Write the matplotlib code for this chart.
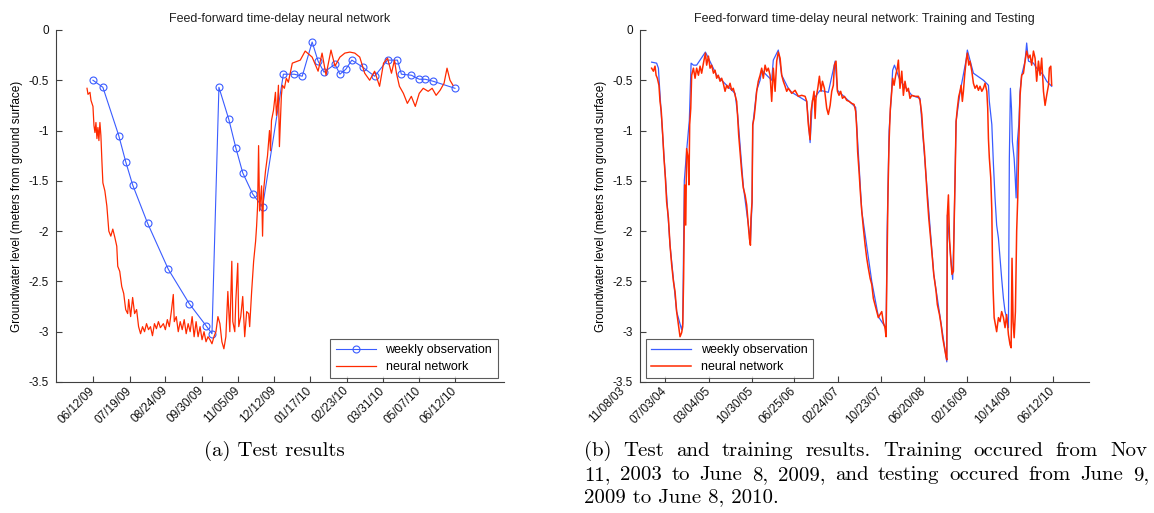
import numpy as np
import pandas as pd
import matplotlib
matplotlib.use("Agg")
import matplotlib.pyplot as plt

plt.rcParams["font.family"] = ["Liberation Sans", "DejaVu Sans"]
plt.rcParams["axes.unicode_minus"] = False

# ---- (a) test period, days since 2009-06-12 ----
test_start = "2009-06-12"
obs_days = [0, 10, 26, 33, 40, 55, 76, 97, 114, 120, 127, 137, 144, 151, 161, 171,
            192, 203, 211, 221, 227, 233, 244, 249, 255, 261, 272, 284, 297, 307,
            311, 321, 329, 335, 343, 365]
obs_level = [-0.50, -0.57, -1.05, -1.31, -1.54, -1.92, -2.38, -2.72, -2.94, -3.02,
             -0.57, -0.89, -1.17, -1.42, -1.63, -1.76, -0.44, -0.44, -0.46, -0.12,
             -0.31, -0.42, -0.34, -0.44, -0.39, -0.30, -0.37, -0.46, -0.30, -0.30,
             -0.44, -0.45, -0.49, -0.49, -0.51, -0.58]

nn_days = [-6, -5, -3, -2, 0, 1, 2, 3, 4, 5, 6, 7, 8, 9, 10, 12, 14, 16, 18, 20, 22,
           24, 25, 27, 29, 31, 33, 35, 36, 38, 40, 42, 44, 46, 48, 50, 52, 54, 56, 58,
           60, 62, 64, 66, 68, 71, 73, 75, 77, 79, 81, 82, 84, 86, 88, 90, 92, 94, 96,
           98, 100, 102, 104, 106, 108, 110, 112, 114, 116, 118, 120, 122, 124, 126,
           128, 130, 132, 134, 136, 138, 139, 140, 141, 143, 144, 146, 147, 149, 151,
           153, 155, 157, 158, 160, 162, 164, 165, 166, 167, 168, 170, 171, 172, 174,
           176, 178, 179, 180, 182, 184, 185, 186, 187, 188, 190, 191, 193, 195, 197,
           201, 209, 214, 221, 227, 231, 235, 240, 244, 249, 254, 259, 264, 269, 274,
           279, 284, 289, 293, 297, 301, 304, 306, 309, 313, 317, 321, 325, 329, 333,
           338, 342, 346, 350, 354, 357, 360, 363]
nn_level = [-0.58, -0.64, -0.62, -0.70, -0.76, -0.95, -1.02, -0.92, -1.08, -0.97,
            -1.10, -0.92, -1.05, -1.30, -1.52, -1.60, -1.75, -2.00, -2.05, -1.98,
            -2.06, -2.15, -2.35, -2.40, -2.55, -2.62, -2.78, -2.82, -2.68, -2.85,
            -2.66, -2.82, -2.78, -2.95, -3.02, -2.95, -3.00, -2.92, -2.98, -2.95,
            -3.04, -2.92, -2.97, -2.90, -2.96, -2.92, -2.98, -2.88, -2.95, -2.80,
            -2.63, -2.90, -2.85, -3.00, -2.90, -2.98, -2.88, -3.02, -2.92, -3.00,
            -2.85, -3.05, -2.90, -3.05, -2.95, -3.08, -3.00, -3.10, -3.05, -3.08,
            -3.12, -3.05, -3.00, -2.85, -2.92, -3.10, -3.17, -3.05, -2.60, -3.00,
            -2.65, -2.30, -2.90, -3.00, -2.70, -2.32, -2.95, -2.85, -2.65, -3.05,
            -2.80, -2.82, -2.95, -2.60, -2.30, -2.10, -1.95, -1.75, -1.15, -1.80,
            -1.55, -2.05, -1.60, -1.40, -1.25, -1.00, -1.20, -0.90, -0.80, -0.62,
            -0.85, -0.75, -0.55, -1.16, -0.65, -0.55, -0.58, -0.48, -0.52, -0.33,
            -0.30, -0.21, -0.27, -0.41, -0.23, -0.45, -0.20, -0.36, -0.27, -0.23,
            -0.22, -0.23, -0.27, -0.43, -0.50, -0.41, -0.56, -0.33, -0.28, -0.43,
            -0.30, -0.43, -0.56, -0.63, -0.73, -0.66, -0.76, -0.63, -0.58, -0.61,
            -0.58, -0.65, -0.60, -0.53, -0.38, -0.50, -0.55]
test_ticks = ["06/12/09", "07/19/09", "08/24/09", "09/30/09", "11/05/09", "12/12/09",
              "01/17/10", "02/23/10", "03/31/10", "05/07/10", "06/12/10"]

# ---- (b) training + test, days since 2003-11-08 ----
full_start = "2003-11-08"
full_obs_days = [163, 191, 201, 206, 232, 266, 303, 331, 337, 346, 359, 374, 384, 397,
                 415, 464, 481, 527, 583, 630, 645, 676, 716, 725, 729, 751, 770, 779,
                 835, 844, 872, 891, 928, 947, 1031, 1050, 1063, 1106, 1152, 1190,
                 1203, 1305, 1339, 1395, 1432, 1469, 1475, 1481, 1492, 1503, 1512,
                 1522, 1553, 1619, 1665, 1742, 1815, 1818, 1837, 1848, 1856, 1867,
                 1889, 1923, 1930, 1964, 2020, 2048, 2053, 2067, 2076, 2085, 2094,
                 2104, 2113, 2122, 2132, 2141, 2150, 2160, 2165, 2171, 2177, 2182,
                 2192, 2197, 2203, 2210, 2218, 2225, 2234, 2253, 2262, 2272, 2300,
                 2318, 2356, 2374, 2402]
full_obs_level = [-0.32, -0.33, -0.38, -0.53, -1.25, -2.14, -2.80, -2.98, -2.92, -1.50,
                  -1.20, -0.90, -0.33, -0.35, -0.35, -0.22, -0.28, -0.45, -0.55, -0.63,
                  -0.85, -1.55, -2.10, -1.72, -0.95, -0.60, -0.50, -0.40, -0.50, -0.30,
                  -0.20, -0.45, -0.58, -0.62, -0.71, -1.12, -0.70, -0.60, -0.62, -0.31,
                  -0.60, -0.77, -1.80, -2.50, -2.85, -2.95, -3.00, -2.00, -1.00, -0.70,
                  -0.40, -0.35, -0.50, -0.65, -0.68, -2.43, -3.30, -1.84, -2.27, -2.48,
                  -1.94, -0.91, -0.62, -0.30, -0.20, -0.43, -0.50, -0.55, -0.71, -0.94,
                  -1.34, -1.67, -1.94, -2.07, -2.27, -2.47, -2.67, -2.80, -2.86, -2.96,
                  -1.28, -0.58, -0.78, -1.11, -1.28, -1.44, -1.67, -1.11, -0.94, -0.61,
                  -0.45, -0.31, -0.13, -0.31, -0.33, -0.38, -0.45, -0.51, -0.56]

full_nn_days = [163, 173, 182, 188, 195, 204, 210, 217, 225, 232, 240, 247, 257, 266,
                275, 285, 294, 303, 313, 322, 331, 337, 342, 348, 354, 359, 367, 372,
                376, 382, 387, 397, 406, 415, 425, 434, 443, 453, 464, 471, 481, 490,
                499, 509, 518, 527, 536, 546, 555, 564, 574, 583, 592, 602, 611, 620,
                630, 639, 645, 650, 658, 667, 676, 686, 695, 704, 710, 716, 719, 725,
                729, 736, 742, 751, 760, 770, 779, 788, 798, 807, 816, 826, 835, 844,
                854, 863, 872, 882, 891, 900, 910, 919, 928, 947, 966, 984, 1003, 1022,
                1031, 1040, 1050, 1055, 1063, 1072, 1078, 1083, 1093, 1102, 1111, 1119,
                1130, 1143, 1152, 1162, 1171, 1180, 1186, 1195, 1203, 1212, 1221, 1231,
                1242, 1255, 1268, 1283, 1296, 1305, 1311, 1316, 1324, 1331, 1339, 1348,
                1358, 1367, 1376, 1386, 1395, 1404, 1413, 1423, 1432, 1441, 1451, 1460,
                1469, 1475, 1481, 1486, 1492, 1499, 1507, 1512, 1520, 1529, 1538, 1544,
                1553, 1563, 1572, 1581, 1591, 1600, 1609, 1619, 1637, 1656, 1665, 1675,
                1682, 1690, 1697, 1706, 1714, 1723, 1733, 1742, 1755, 1762, 1774, 1783,
                1792, 1802, 1811, 1815, 1818, 1824, 1830, 1837, 1844, 1852, 1856, 1861,
                1867, 1874, 1882, 1889, 1895, 1902, 1908, 1915, 1923, 1930, 1938, 1945,
                1955, 1964, 1973, 1983, 1992, 2001, 2011, 2020, 2029, 2039, 2044, 2048,
                2053, 2061, 2067, 2070, 2074, 2080, 2087, 2094, 2104, 2113, 2122, 2132,
                2141, 2150, 2160, 2169, 2175, 2180, 2186, 2192, 2199, 2206, 2212, 2218,
                2225, 2234, 2244, 2253, 2262, 2272, 2281, 2290, 2300, 2309, 2318, 2328,
                2337, 2346, 2356, 2365, 2374, 2384, 2389, 2397, 2402]
full_nn_level = [-0.38, -0.41, -0.36, -0.45, -0.48, -0.55, -0.71, -0.81, -1.04, -1.27,
                 -1.47, -1.71, -1.87, -2.14, -2.33, -2.50, -2.60, -2.80, -2.93, -3.05,
                 -3.01, -2.95, -2.47, -1.54, -1.94, -1.18, -1.27, -1.54, -0.94, -0.78,
                 -0.45, -0.38, -0.48, -0.38, -0.45, -0.36, -0.43, -0.33, -0.23, -0.35,
                 -0.26, -0.38, -0.35, -0.43, -0.40, -0.48, -0.45, -0.51, -0.48, -0.53,
                 -0.61, -0.55, -0.58, -0.53, -0.60, -0.58, -0.65, -0.71, -0.88, -1.04,
                 -1.21, -1.41, -1.57, -1.64, -1.74, -1.94, -2.07, -2.14, -1.87, -1.71,
                 -0.94, -0.88, -0.78, -0.61, -0.51, -0.45, -0.38, -0.48, -0.35, -0.41,
                 -0.38, -0.45, -0.71, -0.38, -0.61, -0.31, -0.22, -0.28, -0.45, -0.51,
                 -0.56, -0.61, -0.58, -0.63, -0.60, -0.66, -0.65, -0.66, -0.71, -0.94,
                 -1.09, -0.81, -0.71, -0.61, -0.88, -0.68, -0.58, -0.46, -0.61, -0.51,
                 -0.58, -0.78, -0.84, -0.75, -0.61, -0.55, -0.35, -0.31, -0.61, -0.65,
                 -0.61, -0.68, -0.66, -0.70, -0.71, -0.73, -0.74, -0.81, -0.98, -1.21,
                 -1.41, -1.61, -1.80, -1.97, -2.14, -2.27, -2.37, -2.47, -2.53, -2.67,
                 -2.73, -2.80, -2.86, -2.83, -2.80, -2.91, -2.96, -3.05, -2.27, -1.61,
                 -1.11, -0.78, -0.61, -0.48, -0.55, -0.45, -0.38, -0.30, -0.58, -0.41,
                 -0.65, -0.51, -0.61, -0.58, -0.68, -0.65, -0.66, -0.66, -0.70, -0.84,
                 -1.04, -1.21, -1.41, -1.67, -1.87, -2.04, -2.24, -2.43, -2.60, -2.73,
                 -2.83, -2.93, -3.06, -3.16, -3.25, -3.28, -1.84, -1.64, -2.07, -2.27,
                 -2.43, -2.40, -1.94, -1.51, -0.91, -0.78, -0.66, -0.61, -0.55, -0.71,
                 -0.61, -0.45, -0.31, -0.23, -0.35, -0.31, -0.41, -0.53, -0.58, -0.55,
                 -0.60, -0.56, -0.61, -0.58, -0.53, -0.61, -0.78, -1.08, -1.27, -1.47,
                 -1.80, -2.24, -2.57, -2.86, -2.93, -3.00, -2.86, -2.90, -2.80, -2.86,
                 -2.96, -2.83, -3.03, -3.13, -3.16, -2.27, -2.90, -3.06, -2.80, -2.00,
                 -1.67, -1.11, -0.65, -0.45, -0.43, -0.31, -0.21, -0.28, -0.25, -0.35,
                 -0.21, -0.28, -0.51, -0.31, -0.45, -0.28, -0.61, -0.75, -0.65, -0.55,
                 -0.38, -0.36, -0.55]
full_ticks = ["11/08/03", "07/03/04", "03/04/05", "10/30/05", "06/25/06", "02/24/07",
              "10/23/07", "06/20/08", "02/16/09", "10/14/09", "06/12/10"]

caption_a = "(a) Test results"
caption_b = ["(b) Test and training results.  Training occured from Nov",
             "11, 2003 to June 8, 2009, and testing occured from June 9,",
             "2009 to June 8, 2010."]

BLUE = "#3a5cff"
RED = "#ff2a00"
AX = "#404040"
TICK_FS = 8.5


def day_offsets(labels, start):
    return list((pd.to_datetime(labels, format="%m/%d/%y") - pd.Timestamp(start)).days)


def style_axes(ax, ticks, labels, xlim):
    for s in ["top", "right"]:
        ax.spines[s].set_visible(False)
    for s in ["left", "bottom"]:
        ax.spines[s].set_color(AX)
        ax.spines[s].set_linewidth(0.8)
    ax.set_ylim(-3.5, 0)
    ax.set_yticks(np.arange(-3.5, 0.01, 0.5))
    ax.set_yticklabels(["%g" % v for v in np.arange(-3.5, 0.01, 0.5)])
    ax.set_xlim(*xlim)
    shown = [(t, l) for t, l in zip(ticks, labels) if xlim[0] <= t <= xlim[1]]
    ax.set_xticks([t for t, _ in shown])
    ax.set_xticklabels([l for _, l in shown], rotation=45, ha="right",
                       va="center", rotation_mode="anchor")
    ax.tick_params(direction="in", length=4, width=0.8, color=AX,
                   labelsize=TICK_FS, pad=5, labelcolor="#111111")
    ax.set_ylabel("Groundwater level (meters from ground surface)", fontsize=8.5,
                  labelpad=4)
    # labels for ticks left of the axis limits
    for t, l in zip(ticks, labels):
        if t < xlim[0]:
            ax.annotate(l, xy=(t, 0), xycoords=ax.get_xaxis_transform(),
                        xytext=(0, -5), textcoords="offset points", rotation=45,
                        ha="right", va="center", rotation_mode="anchor",
                        fontsize=TICK_FS, color="#111111", annotation_clip=False)


def add_legend(ax, loc, anchor):
    leg = ax.legend(loc=loc, fontsize=9, frameon=True, fancybox=False,
                    edgecolor="#333333", borderaxespad=0.3, handlelength=3.2,
                    labelspacing=0.36, borderpad=0.42, bbox_to_anchor=anchor)
    leg.get_frame().set_linewidth(0.8)


def justify(fig, line, x0, x1, y, **kw):
    # spread the words of one caption line between x0 and x1 (pixels)
    r = fig.canvas.get_renderer()
    W = fig.bbox.width
    words = line.split()
    texts = [fig.text(0, y, w, ha="left", va="center", **kw) for w in words]
    widths = [t.get_window_extent(r).width for t in texts]
    gap = (x1 - x0 - sum(widths)) / (len(words) - 1)
    x = x0
    for t, w in zip(texts, widths):
        t.set_x(x / W)
        x += w + gap


fig = plt.figure(figsize=(11.54, 5.13), dpi=100)

ax1 = fig.add_axes([0.0485, 0.2554, 0.3882, 0.6862])
ax1.plot(obs_days, obs_level, color=BLUE, lw=0.8, marker="o", ms=5,
         mfc="none", mec=BLUE, mew=0.8, label="weekly observation")
ax1.plot(nn_days, nn_level, color=RED, lw=0.9, label="neural network")
style_axes(ax1, day_offsets(test_ticks, test_start), test_ticks, (-37.3, 414.4))
ax1.set_title("Feed-forward time-delay neural network", fontsize=9, color="#222222",
              pad=6)
add_legend(ax1, "lower right", (0.994, 0.0))

ax2 = fig.add_axes([0.5546, 0.2554, 0.3891, 0.6862])
ax2.plot(full_obs_days, full_obs_level, color=BLUE, lw=0.9, label="weekly observation")
ax2.plot(full_nn_days, full_nn_level, color=RED, lw=1.1, label="neural network")
style_axes(ax2, day_offsets(full_ticks, full_start), full_ticks, (98, 2611))
ax2.set_title("Feed-forward time-delay neural network: Training and Testing",
              fontsize=9, color="#222222", pad=6)
add_legend(ax2, "lower left", (0.005, 0.0))

cap = dict(family="cmr10", fontsize=15, color="black")
fig.text(0.238, 0.121, caption_a, ha="center", va="center", **cap)
justify(fig, caption_b[0], 584, 1147, 0.121, **cap)
justify(fig, caption_b[1], 584, 1149, 0.074, **cap)
fig.text(584 / 1154, 0.031, caption_b[2], ha="left", va="center", **cap)

fig.savefig("out.png", dpi=100)
